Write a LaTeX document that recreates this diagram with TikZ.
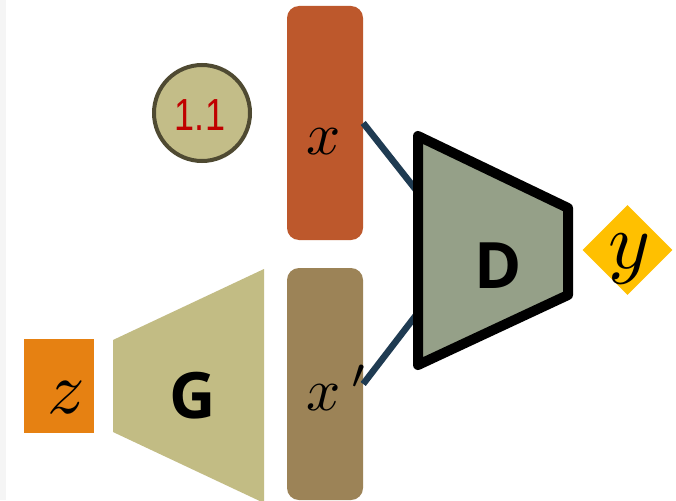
\documentclass[tikz,border=0pt]{standalone}
\usepackage{fontspec}
\newfontfamily\labelfont{Open Sans}
\newfontfamily\numfont{Liberation Sans}
\usetikzlibrary{shapes.geometric}
\definecolor{edgegray}{HTML}{F5F5F5}
\definecolor{badgefill}{HTML}{C3BD88}
\definecolor{badgeline}{HTML}{4F4A32}
\definecolor{badgetext}{HTML}{C00000}
\definecolor{realcol}{HTML}{BD582C}
\definecolor{fakecol}{HTML}{9C8357}
\definecolor{gencol}{HTML}{C2BC84}
\definecolor{noisecol}{HTML}{E68112}
\definecolor{disccol}{HTML}{95A088}
\definecolor{outcol}{HTML}{FFC000}
\definecolor{linkcol}{HTML}{1F3B52}
% math symbol drawn at a given magnification of the 10pt size
\newcommand{\bigmath}[2][6]{\scalebox{#1}{$#2$}}
\tikzset{
  sample/.style={rectangle, rounded corners=12pt, minimum width=76pt, inner sep=0pt},
  mathlabel/.style={inner sep=0pt},
  netlabel/.style={inner sep=0pt, font=\labelfont\bfseries\fontsize{64}{68}\selectfont},
  link/.style={draw=linkcol, line width=6.5pt},
}
\begin{document}
\begin{tikzpicture}[x=1pt, y=-1pt]
\useasboundingbox (0,0) rectangle (676,500);
\clip (0,0) rectangle (676,500);
\fill[white] (0,0) rectangle (676,500);
\fill[edgegray] (0,0) rectangle (6,500);

% version badge
\node[circle, draw=badgeline, fill=badgefill, line width=4pt, minimum size=96pt, inner sep=0pt] (badge) at (202,113) {};
\node[anchor=base, inner sep=0pt, text=badgetext, font=\numfont\fontsize{45}{48}\selectfont] (badgetxt) at (200,130) {\scalebox{0.8}[1]{1.1}};

% noise input and generator
\node[rectangle, fill=noisecol, minimum width=70pt, minimum height=94pt, inner sep=0pt] (znode) at (59,386) {};
\node[mathlabel, anchor=base] (ztxt) at (66,413) {\bigmath[7.4]{z}};
\fill[gencol] (113,340) -- (264,269) -- (264,503) -- (113,432) -- cycle;
\node[netlabel, anchor=base] (G) at (192.5,418) {G};

% real and generated samples
\node[sample, fill=realcol, minimum height=234pt] (xr) at (325,123) {};
\node[mathlabel, anchor=base] (xtxt) at (324,154) {\bigmath{x}};
\node[sample, fill=fakecol, minimum height=232pt] (xf) at (325,384) {};
\node[mathlabel, anchor=base west] (xftxt) at (306,410) {\bigmath{x^{\mkern4mu\prime}}};

% discriminator inputs
\coordinate (din1) at (420,195);
\coordinate (din2) at (420,310);
\draw[link] (xr.east) -- (din1);
\draw[link] (xf.east) -- (din2);

% discriminator
\filldraw[fill=disccol, draw=black, line width=10pt, line join=round]
  (418,136) -- (568,208) -- (568,295) -- (418,365) -- cycle;
\node[netlabel, anchor=base] (D) at (498,288) {D};

% output
\node[diamond, fill=outcol, minimum width=90pt, minimum height=90pt, inner sep=0pt] (ynode) at (627.5,250) {};
\node[mathlabel, anchor=base] (ytxt) at (630,268) {\bigmath[8]{y}};
\end{tikzpicture}
\end{document}
